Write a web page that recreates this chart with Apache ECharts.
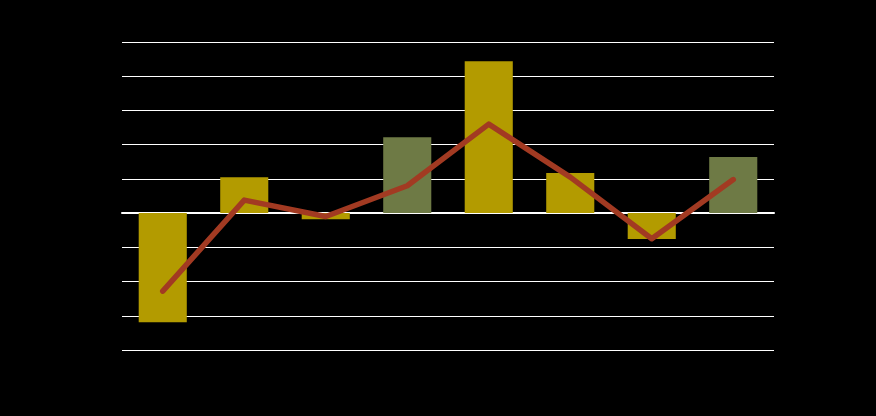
<!DOCTYPE html>
<html>
<head>
<meta charset="utf-8">
<script src="https://cdn.jsdelivr.net/npm/echarts@6/dist/echarts.min.js"></script>
<style>
html,body{margin:0;padding:0;background:#000;}
#chart{width:876px;height:416px;}
</style>
</head>
<body>
<div id="chart"></div>
<script>
var categories = ['1','2','3','4','5','6','7','8'];
var barValues = [-3.19, 1.05, -0.18, 2.22, 4.44, 1.17, -0.76, 1.64];
var barKinds = ['a','a','a','b','a','a','a','b'];
var lineValues = [-2.28, 0.38, -0.1, 0.8, 2.6, 1.05, -0.75, 0.98];

var colorA = '#B39B00';
var colorB = '#6E7A45';
var lineColor = '#A23A22';

var chart = echarts.init(document.getElementById('chart'), null, {renderer:'canvas'});
chart.setOption({
  backgroundColor: '#000',
  animation: false,
  grid: {left:122, right:102, top:42, bottom:66, containLabel:false},
  xAxis: {
    type:'category', data: categories,
    axisLine:{show:true, lineStyle:{color:'#fff', width:2}},
    axisTick:{show:false}, axisLabel:{show:false}, splitLine:{show:false}
  },
  yAxis: {
    type:'value', min:-4, max:5, interval:1,
    axisLine:{show:false}, axisTick:{show:false}, axisLabel:{show:false},
    splitLine:{show:true, lineStyle:{color:'#fff', width:1}}
  },
  series: [
    {
      type:'bar', barWidth:'59%',
      data: barValues.map(function(v,i){return {value:v, itemStyle:{color: barKinds[i]==='b'?colorB:colorA}};})
    },
    {
      type:'line', data: lineValues, symbol:'none', z:5,
      lineStyle:{color:lineColor, width:5.5, cap:'round', join:'round'}
    }
  ]
});
</script>
</body>
</html>
